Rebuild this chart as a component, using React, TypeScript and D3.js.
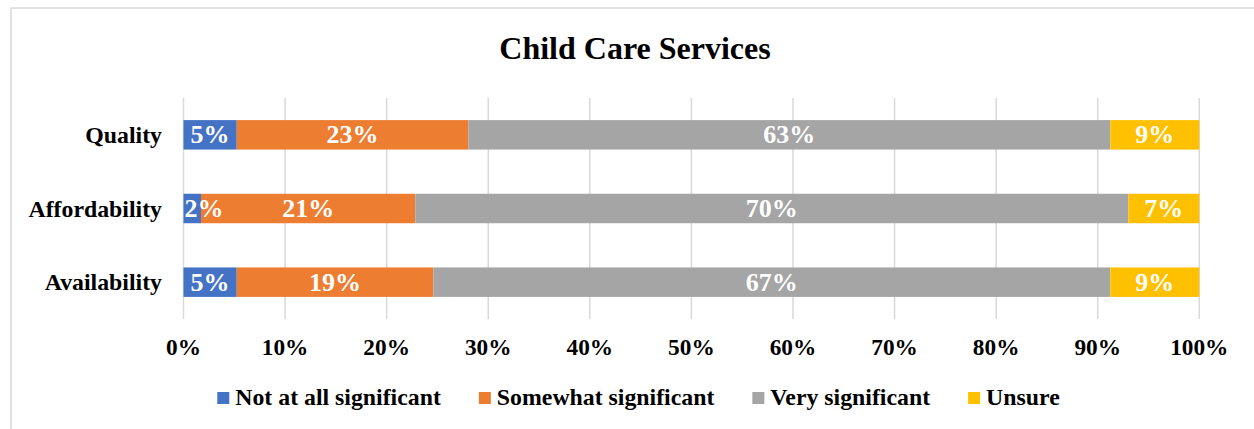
import React, { useEffect, useRef } from "react";
import * as d3 from "d3";

const categories = ["Quality", "Affordability", "Availability"];
const seriesNames = ["Not at all significant", "Somewhat significant", "Very significant", "Unsure"];
const notAtAll = [5.24, 1.72, 5.24];
const somewhat = [22.8, 21.1, 19.35];
const very = [63.2, 70.2, 66.65];
const unsure = [8.76, 6.98, 8.76];
const xTicks = [0, 10, 20, 30, 40, 50, 60, 70, 80, 90, 100];
const colors = ["#4472C4", "#ED7D31", "#A5A5A5", "#FFC000"];
const title = "Child Care Services";

const FONT = "'Liberation Serif', 'Times New Roman', serif";

export default function App() {
  const ref = useRef<SVGSVGElement | null>(null);

  useEffect(() => {
    document.body.style.margin = "0";
    const svg = d3.select(ref.current);
    svg.selectAll("*").remove();

    const W = 1254, H = 429;
    const left = 183.5, right = 1199.3, top = 98, bottom = 319;

    svg.append("rect")
      .attr("x", 11).attr("y", 8).attr("width", W + 20).attr("height", H + 20)
      .attr("fill", "white").attr("stroke", "#d9d9d9").attr("stroke-width", 1.5);

    svg.append("text")
      .attr("x", 635).attr("y", 59)
      .attr("text-anchor", "middle")
      .attr("font-family", FONT).attr("font-weight", "bold").attr("font-size", 32)
      .attr("fill", "#000").text(title);

    const x = d3.scaleLinear().domain([0, 100]).range([left, right]);
    const y = d3.scaleBand().domain(categories).range([top, bottom]).paddingInner(0.6).paddingOuter(0.3);

    // gridlines
    svg.append("g").selectAll("line").data(xTicks).join("line")
      .attr("x1", (d) => x(d)).attr("x2", (d) => x(d))
      .attr("y1", top).attr("y2", bottom)
      .attr("stroke", "#d9d9d9").attr("stroke-width", 1.5);

    // tick labels
    svg.append("g").selectAll("text").data(xTicks).join("text")
      .attr("x", (d) => x(d)).attr("y", 355)
      .attr("text-anchor", "middle")
      .attr("font-family", FONT).attr("font-weight", "bold").attr("font-size", 23.3)
      .attr("fill", "#000").text((d) => `${d}%`);

    // category labels
    svg.append("g").selectAll("text").data(categories).join("text")
      .attr("x", 162).attr("y", (d) => (y(d) as number) + y.bandwidth() / 2 + 8)
      .attr("text-anchor", "end")
      .attr("font-family", FONT).attr("font-weight", "bold").attr("font-size", 23.8)
      .attr("fill", "#000").text((d) => d);

    const seriesVals = [notAtAll, somewhat, very, unsure];
    const rows = categories.map((c, i) => {
      const r: any = { category: c };
      seriesNames.forEach((s, j) => (r[s] = seriesVals[j][i]));
      return r;
    });
    const stack = d3.stack<any>().keys(seriesNames);
    const stacked = stack(rows);

    const g = svg.append("g");
    stacked.forEach((layer, j) => {
      g.append("g").selectAll("rect").data(layer).join("rect")
        .attr("x", (d) => x(d[0]))
        .attr("width", (d) => x(d[1]) - x(d[0]))
        .attr("y", (d) => y(d.data.category) as number)
        .attr("height", y.bandwidth())
        .attr("fill", colors[j]);
    });
    stacked.forEach((layer) => {
      g.append("g").selectAll("text").data(layer).join("text")
        .attr("x", (d) => (x(d[0]) + x(d[1])) / 2)
        .attr("y", (d) => (y(d.data.category) as number) + y.bandwidth() / 2 + 8.5)
        .attr("text-anchor", "middle")
        .attr("font-family", FONT).attr("font-weight", "bold").attr("font-size", 26)
        .attr("fill", "#fff")
        .text((d) => `${Math.round(d[1] - d[0])}%`)
        .each(function () {
          const el = this as SVGTextElement;
          const w = el.getComputedTextLength();
          const cxv = +el.getAttribute("x")!;
          if (cxv - w / 2 < left + 1) el.setAttribute("x", String(left + 1 + w / 2));
        });
    });

    // legend
    const lg = svg.append("g");
    const items = seriesNames.map((name, j) => {
      const ig = lg.append("g");
      ig.append("rect").attr("x", 0).attr("y", -13).attr("width", 12).attr("height", 12).attr("fill", colors[j]);
      const t = ig.append("text").attr("x", 18).attr("y", 0)
        .attr("font-family", FONT).attr("font-weight", "bold").attr("font-size", 23.8)
        .attr("fill", "#000").text(name);
      const w = 18 + (t.node() as SVGTextElement).getComputedTextLength();
      return { ig, w };
    });
    const gap = 38;
    const total = items.reduce((a, b) => a + b.w, 0) + gap * (items.length - 1);
    let cx = 638.5 - total / 2;
    items.forEach((it) => {
      it.ig.attr("transform", `translate(${cx},405)`);
      cx += it.w + gap;
    });
  }, []);

  return <svg ref={ref} width={1254} height={429} style={{ display: "block" }} />;
}
